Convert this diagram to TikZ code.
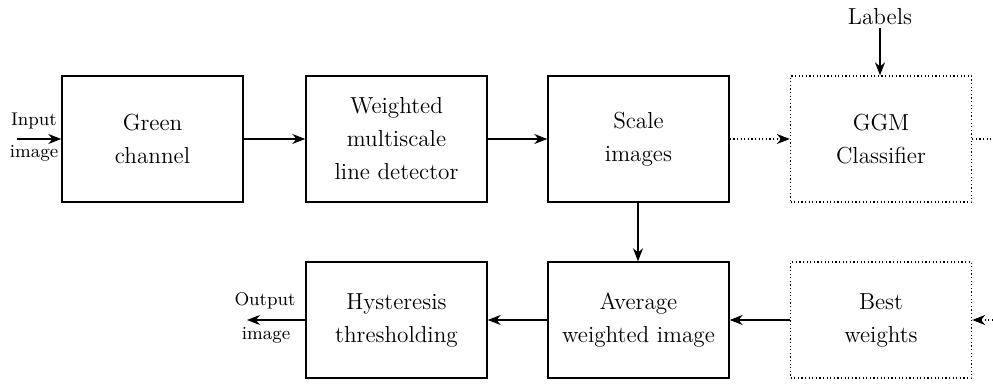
\documentclass[tikz,border=0pt]{standalone}
\usetikzlibrary{arrows.meta}
\begin{document}
\begin{tikzpicture}[x=0.5pt,y=-0.5pt,
  blk/.style={draw,line width=0.7pt,minimum width=90.5pt,align=center,font=\fontsize{11.6}{16.5}\selectfont},
  toprow/.style={blk,minimum height=63pt},
  botrow/.style={blk,minimum height=58pt},
  dotbox/.style={dash pattern=on 0.6pt off 1.2pt},
  arr/.style={line width=0.7pt,-{Stealth[length=6.5pt,width=5pt]}},
  small/.style={font=\fontsize{9.2}{10}\selectfont,inner sep=0pt}]
\useasboundingbox (0,0) rectangle (993,385);
\node[toprow] (green) at (152.5,139) {Green\\channel};
\node[toprow] (wmld) at (396.5,139) {Weighted\\multiscale\\line detector};
\node[toprow] (scale) at (638.5,139) {Scale\\images};
\node[toprow,dotbox] (ggm) at (881,139) {GGM\\Classifier};
\node[botrow] (hyst) at (396.5,320) {Hysteresis\\thresholding};
\node[botrow] (avg) at (638.5,320) {Average\\weighted image};
\node[botrow,dotbox] (best) at (881,320) {Best\\weights};
\node[font=\fontsize{11.6}{14}\selectfont,inner sep=1pt] (labels) at (880,17) {Labels};
\coordinate (inS) at (17,139);
\coordinate (outE) at (247,320);
\coordinate (ggmE) at (993,139);
\coordinate (bestS) at (993,320);
\node[small] (inT) at (34,121) {Input};
\node[small] (inB) at (34,153) {image};
\node[small] (outT) at (265,301) {Output};
\node[small] (outB) at (266,335) {image};
\draw[arr] (inS) -- (green.west);
\draw[arr] (green) -- (wmld);
\draw[arr] (wmld) -- (scale);
\draw[arr,dotbox] (scale) -- (ggm);
\draw[line width=0.7pt,dotbox] (ggm.east) -- (ggmE);
\draw[arr] (labels) -- (labels |- ggm.north);
\draw[arr] ([xshift=-0.25pt]scale.south) -- ([xshift=-0.25pt]avg.north);
\draw[arr,dotbox] (bestS) -- (best.east);
\draw[arr] (best) -- (avg);
\draw[arr] (avg) -- (hyst);
\draw[arr] (hyst.west) -- (outE);
\end{tikzpicture}
\end{document}
